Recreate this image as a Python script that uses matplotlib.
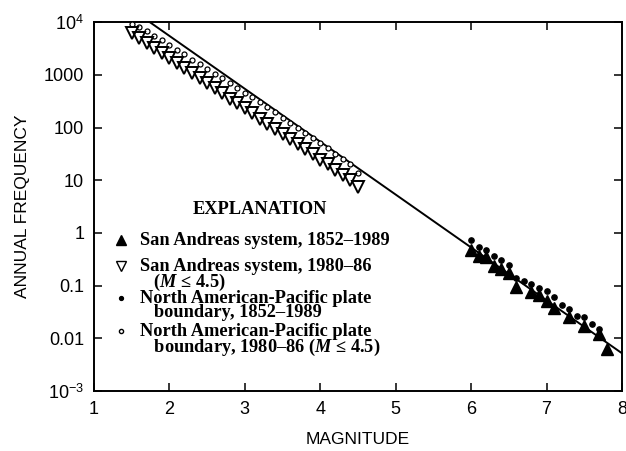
"""Magnitude-frequency plot, San Andreas system vs. plate boundary."""
import matplotlib
matplotlib.use("Agg")
import matplotlib.pyplot as plt

plt.rcParams["font.family"] = ["Liberation Sans", "DejaVu Sans"]
plt.rcParams["mathtext.fontset"] = "custom"
plt.rcParams["mathtext.rm"] = "Liberation Sans"
plt.rcParams["mathtext.it"] = "Liberation Serif:italic:bold"

# San Andreas system, 1980-86 (M <= 4.5)  -- open down-triangles
sa_small_mag = [1.5, 1.6, 1.7, 1.8, 1.9, 2.0, 2.1, 2.2, 2.3, 2.4, 2.5,
                2.6, 2.7, 2.8, 2.9, 3.0, 3.1, 3.2, 3.3, 3.4, 3.5,
                3.6, 3.7, 3.8, 3.9, 4.0, 4.1, 4.2, 4.3, 4.4, 4.5]
sa_small_freq = [6200, 5000, 4100, 3200, 2600, 2100, 1700, 1350, 1100, 870, 690,
                 560, 450, 355, 290, 230, 186, 148, 117, 95, 76,
                 60, 48, 39, 31, 24.5, 20, 15.8, 12.6, 10, 7.4]

# North American-Pacific plate boundary, 1980-86 (M <= 4.5)  -- open circles
pb_small_mag = sa_small_mag
pb_small_freq = [9300, 8000, 6700, 5500, 4500, 3700, 3000, 2450, 1950, 1600, 1280,
                 1050, 860, 700, 560, 460, 375, 300, 240, 195, 150,
                 124, 98, 80, 64, 50, 41, 31, 25, 20, 13.5]

# San Andreas system, 1852-1989  -- filled triangles
sa_large_mag = [6.0, 6.1, 6.2, 6.3, 6.4, 6.5, 6.6, 6.8, 6.9, 7.0, 7.1, 7.3, 7.5, 7.7, 7.8]
sa_large_freq = [0.47, 0.37, 0.35, 0.24, 0.21, 0.17, 0.093, 0.075, 0.065, 0.052,
                 0.038, 0.025, 0.017, 0.012, 0.0063]

# North American-Pacific plate boundary, 1852-1989  -- filled dots
pb_large_mag = [6.0, 6.1, 6.2, 6.3, 6.4, 6.5, 6.6, 6.7, 6.8, 6.9, 7.0, 7.1,
                7.2, 7.3, 7.4, 7.5, 7.6, 7.7]
pb_large_freq = [0.72, 0.54, 0.47, 0.36, 0.30, 0.25, 0.14, 0.125, 0.108, 0.089, 0.080, 0.062,
                 0.043, 0.036, 0.026, 0.025, 0.019, 0.015]

# fitted relation, end points
fit_mag = [1.74, 8.0]
fit_freq = [1.0e4, 5.2e-3]

y_ticks = [1e-3, 1e-2, 1e-1, 1, 10, 100, 1000, 1e4]
y_labels = ["10$^{-3}$", "0.01", "0.1", "1", "10", "100", "1000", "10$^{4}$"]
x_ticks = [1, 2, 3, 4, 5, 6, 7, 8]

fig = plt.figure(figsize=(6.26, 4.51), dpi=100)
ax = fig.add_axes([0.150, 0.133, 0.8436, 0.818])

ax.plot(fit_mag, fit_freq, color="black", lw=1.4, zorder=2)
ax.plot(pb_small_mag, pb_small_freq, ls="none", marker="o", ms=3.6,
        mfc="white", mec="black", mew=0.9, zorder=3)
ax.plot(sa_small_mag, sa_small_freq, ls="none", marker="v", ms=8,
        mfc="none", mec="black", mew=1.4, zorder=4)
ax.plot(pb_large_mag, pb_large_freq, ls="none", marker="o", ms=3.8,
        color="black", zorder=3)
ax.plot(sa_large_mag, sa_large_freq, ls="none", marker="^", ms=8.5,
        color="black", zorder=4)

ax.set_yscale("log")
ax.set_xlim(1, 8)
ax.set_ylim(1e-3, 1e4)
ax.set_yticks(y_ticks)
ax.set_yticklabels(y_labels)
ax.minorticks_off()
ax.set_xticks(x_ticks)
ax.tick_params(direction="in", length=6, width=1.1, top=True, right=True,
               labelsize=13, pad=7)
for s in ax.spines.values():
    s.set_linewidth(1.4)

ax.set_xlabel("MAGNITUDE", fontsize=12.5, labelpad=10)
ax.set_ylabel("ANNUAL FREQUENCY", fontsize=12.5, labelpad=10)

# explanation block
serif = dict(family="Liberation Serif", fontweight="bold", fontsize=13.2,
             transform=ax.transAxes)
ax.text(0.314, 0.492, "EXPLANATION", ha="center", va="center", **serif)

entries = [
    ("^", "black", 7, "San Andreas system, 1852–1989", 0.409),
    ("v", "white", 7, "San Andreas system, 1980–86\n   ($M$ ≤ 4.5)", 0.339),
    ("o", "black", 2.8, "North American-Pacific plate\n   boundary, 1852–1989", 0.251),
    ("o", "white", 3.0, "North American-Pacific plate\n   boundary, 1980–86 ($M$ ≤ 4.5)", 0.162),
]
for marker, face, size, label, y in entries:
    ax.plot([0.052], [y], transform=ax.transAxes, marker=marker, ms=size,
            mfc=face, mec="black", mew=1.0, ls="none", clip_on=False)
    ax.text(0.087, y + 0.022, label, ha="left", va="top", linespacing=0.78,
            **serif)

fig.savefig("out.png", dpi=100)
